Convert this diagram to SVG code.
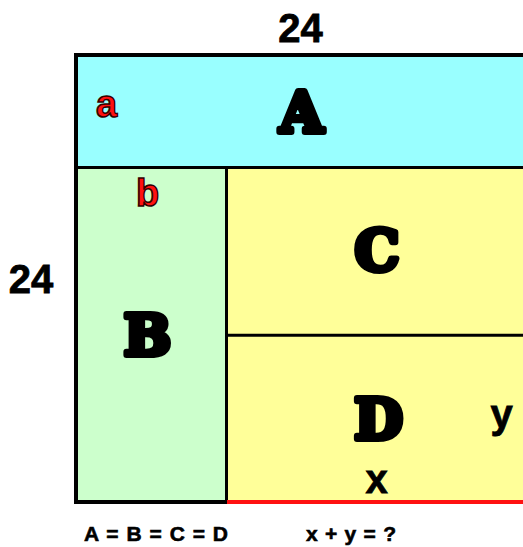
<svg xmlns="http://www.w3.org/2000/svg" width="523" height="547" viewBox="0 0 523 547">
  <style>
    .big { font-family: "DejaVu Serif", "Liberation Serif", serif; font-weight: bold; font-size: 56px; fill: #000; stroke: #000; stroke-width: 6; stroke-linejoin: round; text-anchor: middle; }
    .var { font-family: "Liberation Sans", Arial, sans-serif; font-weight: bold; font-size: 38px; fill: #ff1111; stroke: #330000; stroke-width: 1.5; text-anchor: middle; }
    .lbl { font-family: "Liberation Sans", Arial, sans-serif; font-weight: bold; font-size: 40px; fill: #000; stroke: #000; stroke-width: 0.8; text-anchor: middle; }
    .eq { font-family: "Liberation Sans", Arial, sans-serif; font-weight: bold; font-size: 21px; fill: #000; stroke: #000; stroke-width: 0.6; }
    .line { stroke: #000; fill: none; }
  </style>
  <rect width="523" height="547" fill="#ffffff"/>
  <g id="A">
    <rect x="76" y="55" width="452" height="112" fill="#99ffff"/>
    <text class="big" x="301.5" y="132">A</text>
    <text class="var" x="106.5" y="117">a</text>
  </g>
  <g id="B">
    <rect x="76" y="167" width="150" height="335" fill="#ccffcc"/>
    <text class="big" x="147.5" y="355">B</text>
    <text class="var" x="147.5" y="206">b</text>
  </g>
  <g id="C">
    <rect x="226" y="167" width="302" height="168" fill="#ffff99"/>
    <text class="big" x="377" y="270">C</text>
  </g>
  <g id="D">
    <rect x="226" y="335" width="302" height="167" fill="#ffff99"/>
    <text class="big" x="378.5" y="439">D</text>
    <text class="lbl" x="376.5" y="493">x</text>
    <text class="lbl" x="501.5" y="428">y</text>
  </g>
  <g id="connectors">
    <path class="line" d="M76 55 H528" stroke-width="4"/>
    <path class="line" d="M76 53 V504" stroke-width="4"/>
    <path class="line" d="M76 167.5 H528" stroke-width="3"/>
    <path class="line" d="M226.5 167 V502" stroke-width="3"/>
    <path class="line" d="M226 335.3 H528" stroke-width="3"/>
    <path class="line" d="M74 502 H227" stroke-width="4"/>
    <path d="M227 502 H528" stroke="#ff1111" stroke-width="4" fill="none"/>
  </g>
  <g id="labels">
    <text class="lbl" x="300.5" y="42">24</text>
    <text class="lbl" x="31" y="293">24</text>
    <text class="eq" x="84" y="541" textLength="144" lengthAdjust="spacing">A = B = C = D</text>
    <text class="eq" x="306" y="541" textLength="90" lengthAdjust="spacing">x + y = ?</text>
  </g>
</svg>
